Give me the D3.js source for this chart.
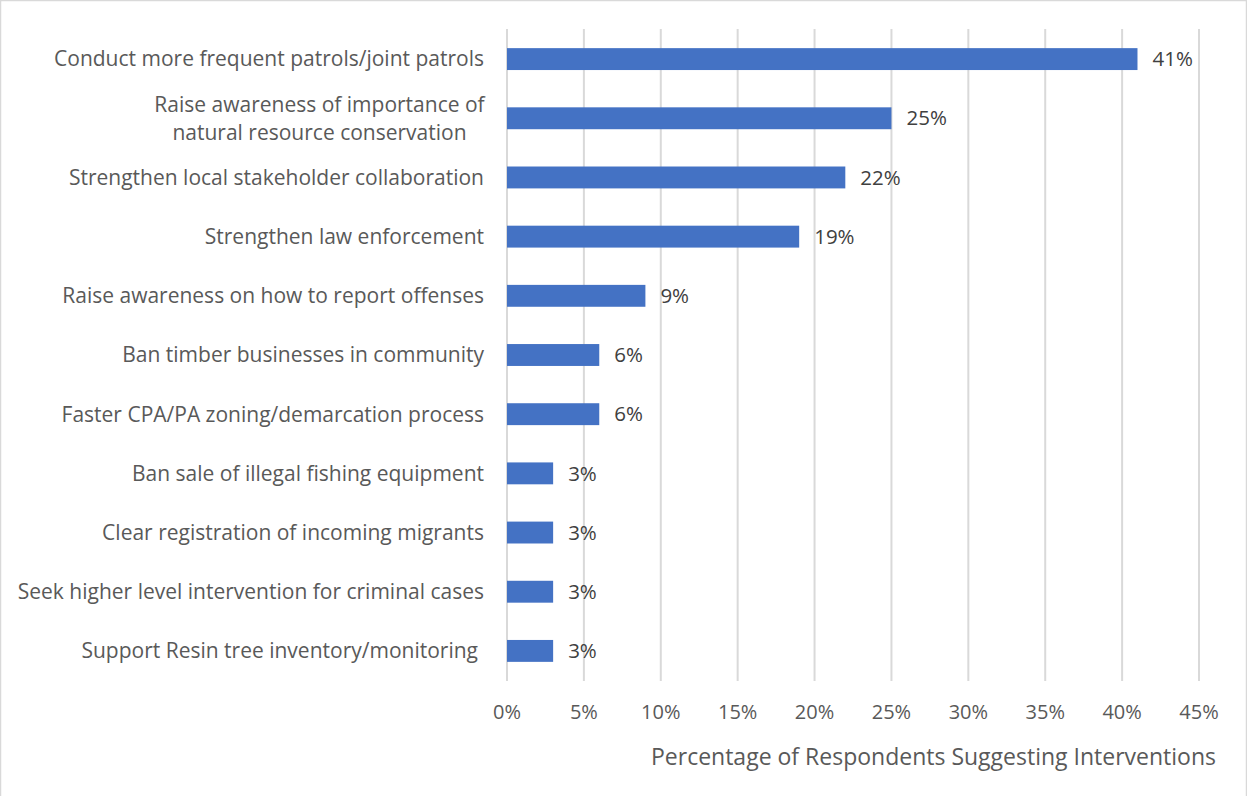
<!DOCTYPE html>
<html>
<head>
<meta charset="utf-8">
<script src="https://cdn.jsdelivr.net/npm/d3@7"></script>
<style>
  html, body { margin: 0; padding: 0; background: #fff; }
  svg text { font-family: "Open Sans", "Noto Sans", sans-serif; }
</style>
</head>
<body>
<svg id="chart" width="1247" height="796"></svg>
<script>
// Suggested interventions, in the order shown (top to bottom)
const categories = [
  "Conduct more frequent patrols/joint patrols",
  "Raise awareness of importance of|natural resource conservation",
  "Strengthen local stakeholder collaboration",
  "Strengthen law enforcement",
  "Raise awareness on how to report offenses",
  "Ban timber businesses in community",
  "Faster CPA/PA zoning/demarcation process",
  "Ban sale of illegal fishing equipment",
  "Clear registration of incoming migrants",
  "Seek higher level intervention for criminal cases",
  "Support Resin tree inventory/monitoring"
];
const values = [41, 25, 22, 19, 9, 6, 6, 3, 3, 3, 3];
const xTicks = [0, 5, 10, 15, 20, 25, 30, 35, 40, 45];
const axisTitle = "Percentage of Respondents Suggesting Interventions";

const svg = d3.select("#chart");
const W = 1247, H = 796;

// chart area frame
svg.append("rect")
  .attr("x", 0.5).attr("y", 0.5)
  .attr("width", W - 1).attr("height", H + 10)
  .attr("fill", "#fff").attr("stroke", "#d9d9d9").attr("stroke-width", 1.5);

const x = d3.scaleLinear().domain([0, 45]).range([507, 1199]);
const y = d3.scaleBand().domain(categories).range([29.5, 680.5]).paddingInner(0.63).paddingOuter(0.315);

// vertical gridlines
svg.append("g").selectAll("line").data(xTicks).join("line")
  .attr("x1", d => x(d)).attr("x2", d => x(d))
  .attr("y1", 29).attr("y2", 681)
  .attr("stroke", "#d9d9d9").attr("stroke-width", 2);

// bars
svg.append("g").selectAll("rect").data(values).join("rect")
  .attr("x", x(0))
  .attr("y", (d, i) => y(categories[i]))
  .attr("width", d => x(d) - x(0))
  .attr("height", y.bandwidth())
  .attr("fill", "#4472c4");

// value labels
svg.append("g").selectAll("text").data(values).join("text")
  .attr("x", d => x(d) + 15)
  .attr("y", (d, i) => y(categories[i]) + y.bandwidth() / 2)
  .attr("dy", "0.35em")
  .attr("font-size", 20.5)
  .attr("fill", "#404040")
  .text(d => d + "%");

// category labels (right aligned; wrapped label centred within its block)
const labG = svg.append("g");
categories.forEach((c, i) => {
  const cy = y(c) + y.bandwidth() / 2;
  const lines = c.split("|");
  if (lines.length === 1) {
    labG.append("text")
      .attr("x", i === categories.length - 1 ? 478 : 484)
      .attr("y", cy).attr("dy", "0.35em")
      .attr("text-anchor", "end")
      .attr("font-size", 21)
      .attr("fill", "#595959")
      .text(c);
  } else {
    const t = labG.append("text")
      .attr("font-size", 21)
      .attr("fill", "#595959")
      .attr("text-anchor", "middle");
    lines.forEach((ln, k) => {
      t.append("tspan")
        .attr("x", 319.5)
        .attr("y", cy + (k - (lines.length - 1) / 2) * 28)
        .attr("dy", "0.35em")
        .text(ln);
    });
  }
});

// x axis tick labels
svg.append("g").selectAll("text").data(xTicks).join("text")
  .attr("x", d => x(d))
  .attr("y", 712).attr("dy", "0.35em")
  .attr("text-anchor", "middle")
  .attr("font-size", 20)
  .attr("fill", "#595959")
  .text(d => d + "%");

// axis title
svg.append("text")
  .attr("x", 1216).attr("y", 757).attr("dy", "0.35em")
  .attr("text-anchor", "end")
  .attr("font-size", 23)
  .attr("fill", "#595959")
  .text(axisTitle);
</script>
</body>
</html>
